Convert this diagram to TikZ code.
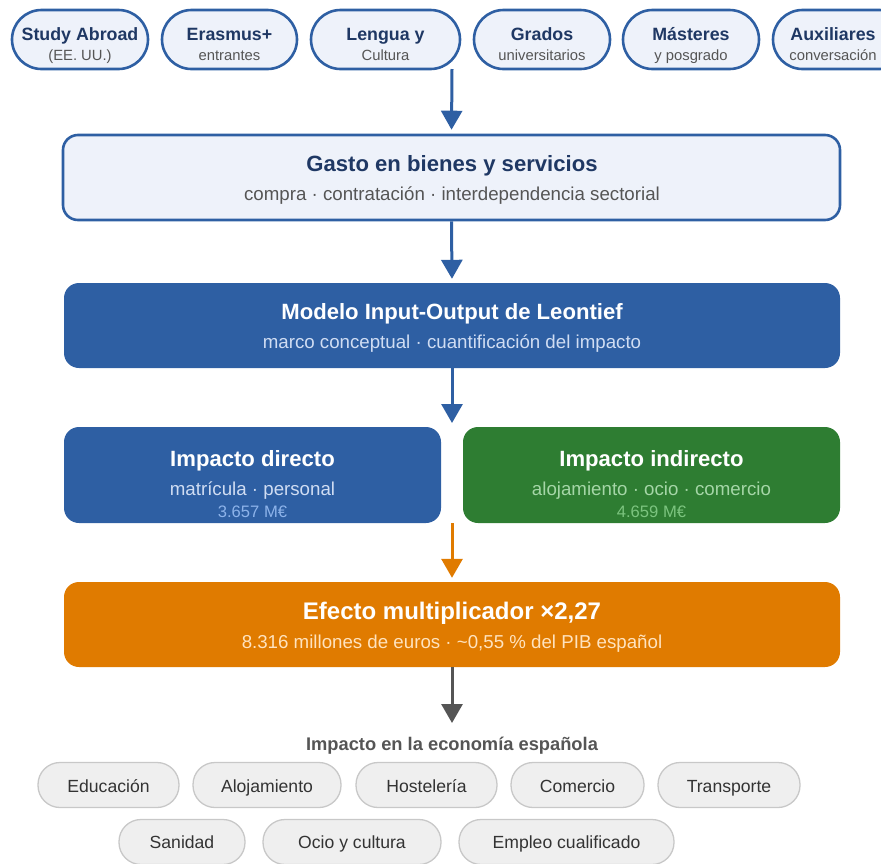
\documentclass[tikz,border=0pt]{standalone}
\usepackage{fontspec}
\setmainfont{Liberation Sans}
\usetikzlibrary{arrows.meta}
\definecolor{cblue}{HTML}{2E5FA3}
\definecolor{cpale}{HTML}{EEF2FA}
\definecolor{cnavy}{HTML}{1F3864}
\definecolor{cgray}{HTML}{555555}
\definecolor{cgreen}{HTML}{2E7D32}
\definecolor{corange}{HTML}{E07B00}
\definecolor{clblue}{HTML}{D0DDF3}
\definecolor{cmblue}{HTML}{8DB3EA}
\definecolor{clgreen}{HTML}{A5D6A7}
\definecolor{cmgreen}{HTML}{7CC47F}
\definecolor{clorange}{HTML}{FFE3BF}
\definecolor{cpill}{HTML}{EFEFEF}
\definecolor{cpillb}{HTML}{C8C8C8}
\tikzset{
  toppill/.style={draw=cblue,line width=2.6pt,fill=cpale,rounded corners=29.5pt,minimum height=59pt,inner sep=0pt},
  pilltitle/.style={font=\fontsize{17.8}{18}\selectfont\bfseries,text=cnavy,inner sep=0pt,anchor=base},
  pillsub/.style={font=\fontsize{14.8}{15}\selectfont,text=cgray,inner sep=0pt,anchor=base},
  bigbox/.style={rounded corners=15pt,minimum height=85pt,inner sep=0pt},
  boxtitle/.style={font=\fontsize{22.1}{22}\selectfont\bfseries,inner sep=0pt,anchor=base},
  boxsub/.style={font=\fontsize{18.7}{19}\selectfont,inner sep=0pt,anchor=base},
  boxnum/.style={font=\fontsize{16.6}{17}\selectfont,inner sep=0pt,anchor=base},
  arr/.style={line width=3pt,-{Triangle[width=21pt,length=19pt]},shorten >=4pt},
  secpill/.style={draw=cpillb,line width=1.3pt,fill=cpill,rounded corners=22pt,minimum height=45pt,inner sep=0pt},
  sectext/.style={font=\fontsize{17.6}{18}\selectfont,text=black!80,inner sep=0pt,anchor=base},
}
\begin{document}
\begin{tikzpicture}[x=1pt,y=-1pt]
\useasboundingbox (0,0) rectangle (881,863);
\clip (0,0) rectangle (881,863);
% top pills
\node[toppill,minimum width=136pt] (p1) at (80,39.5) {};
\node[pilltitle] (p1t) at (80,40) {Study Abroad};
\node[pillsub] (p1s) at (80,60.5) {(EE. UU.)};
\node[toppill,minimum width=135pt] (p2) at (229.5,39.5) {};
\node[pilltitle] (p2t) at (229.5,40) {Erasmus+};
\node[pillsub] (p2s) at (229.5,60.5) {entrantes};
\node[toppill,minimum width=149pt] (p3) at (385.5,39.5) {};
\node[pilltitle] (p3t) at (385.5,40) {Lengua y};
\node[pillsub] (p3s) at (385.5,60.5) {Cultura};
\node[toppill,minimum width=136pt] (p4) at (542,39.5) {};
\node[pilltitle] (p4t) at (542,40) {Grados};
\node[pillsub] (p4s) at (542,60.5) {universitarios};
\node[toppill,minimum width=136pt] (p5) at (691,39.5) {};
\node[pilltitle] (p5t) at (691,40) {Másteres};
\node[pillsub] (p5s) at (691,60.5) {y posgrado};
\node[toppill,minimum width=136pt] (p6) at (841,39.5) {};
\node[pilltitle] (p6t) at (833,40) {Auxiliares};
\node[pillsub] (p6s) at (833,60.5) {conversación};
\coordinate (topc) at (452,69);
% Gasto
\node[bigbox,draw=cblue,line width=2.6pt,fill=cpale,minimum width=777pt] (gasto) at (451.5,177.5) {};
\node[boxtitle,text=cnavy] (gastot) at (452,171) {Gasto en bienes y servicios};
\node[boxsub,text=cgray] (gastos) at (452,200) {compra · contratación · interdependencia sectorial};
% Modelo
\node[bigbox,fill=cblue,minimum width=776pt] (modelo) at (452,325.5) {};
\node[boxtitle,text=white] (modelot) at (452,319) {Modelo Input-Output de Leontief};
\node[boxsub,text=clblue] (modelos) at (452,348) {marco conceptual · cuantificación del impacto};
% Impacto directo / indirecto
\node[bigbox,fill=cblue,minimum width=377pt,minimum height=96pt] (dir) at (252.5,475) {};
\node[boxtitle,text=white] (dirt) at (252.5,466) {Impacto directo};
\node[boxsub,text=clblue] (dirs) at (252.5,495.5) {matrícula · personal};
\node[boxnum,text=cmblue] (dirn) at (252.5,517) {3.657 M€};
\node[bigbox,fill=cgreen,minimum width=377pt,minimum height=96pt] (ind) at (651.5,475) {};
\node[boxtitle,text=white] (indt) at (651.5,466) {Impacto indirecto};
\node[boxsub,text=clgreen] (inds) at (651.5,495.5) {alojamiento · ocio · comercio};
\node[boxnum,text=cmgreen] (indn) at (651.5,517) {4.659 M€};
\coordinate (midtop) at (452,427);
\coordinate (midbot) at (452,523);
% Efecto
\node[bigbox,fill=corange,minimum width=776pt] (efecto) at (452,624.5) {};
\node[boxtitle,font=\fontsize{24}{24}\selectfont\bfseries,text=white] (efectot) at (452,619) {Efecto multiplicador ×2,27};
\node[boxsub,text=clorange] (efectos) at (452,648) {8.316 millones de euros · \textasciitilde0,55 \% del PIB español};
% arrows
\draw[arr,cblue] (topc) -- (gasto.north);
\draw[arr,cblue] (gasto.south) -- (modelo.north);
\draw[arr,cblue] (modelo.south) -- (midtop);
\draw[arr,corange] (midbot) -- (efecto.north);
\coordinate (econtop) at (452,727);
\draw[arr,cgray] (efecto.south) -- (econtop);
% economy
\node[font=\fontsize{18.3}{18}\selectfont\bfseries,text=cgray,inner sep=0pt,anchor=base] (econ) at (452,750) {Impacto en la economía española};
\node[secpill,minimum width=141pt] (s1) at (108.5,785) {};
\node[sectext] (s1t) at (108.5,792) {Educación};
\node[secpill,minimum width=148pt] (s2) at (267,785) {};
\node[sectext] (s2t) at (267,792) {Alojamiento};
\node[secpill,minimum width=141pt] (s3) at (426.5,785) {};
\node[sectext] (s3t) at (426.5,792) {Hostelería};
\node[secpill,minimum width=133pt] (s4) at (577.5,785) {};
\node[sectext] (s4t) at (577.5,792) {Comercio};
\node[secpill,minimum width=142pt] (s5) at (729,785) {};
\node[sectext] (s5t) at (729,792) {Transporte};
\node[secpill,minimum width=126pt] (s6) at (182,842) {};
\node[sectext] (s6t) at (182,848) {Sanidad};
\node[secpill,minimum width=178pt] (s7) at (352,842) {};
\node[sectext] (s7t) at (352,848) {Ocio y cultura};
\node[secpill,minimum width=215pt] (s8) at (566.5,842) {};
\node[sectext] (s8t) at (566.5,848) {Empleo cualificado};
\end{tikzpicture}
\end{document}
